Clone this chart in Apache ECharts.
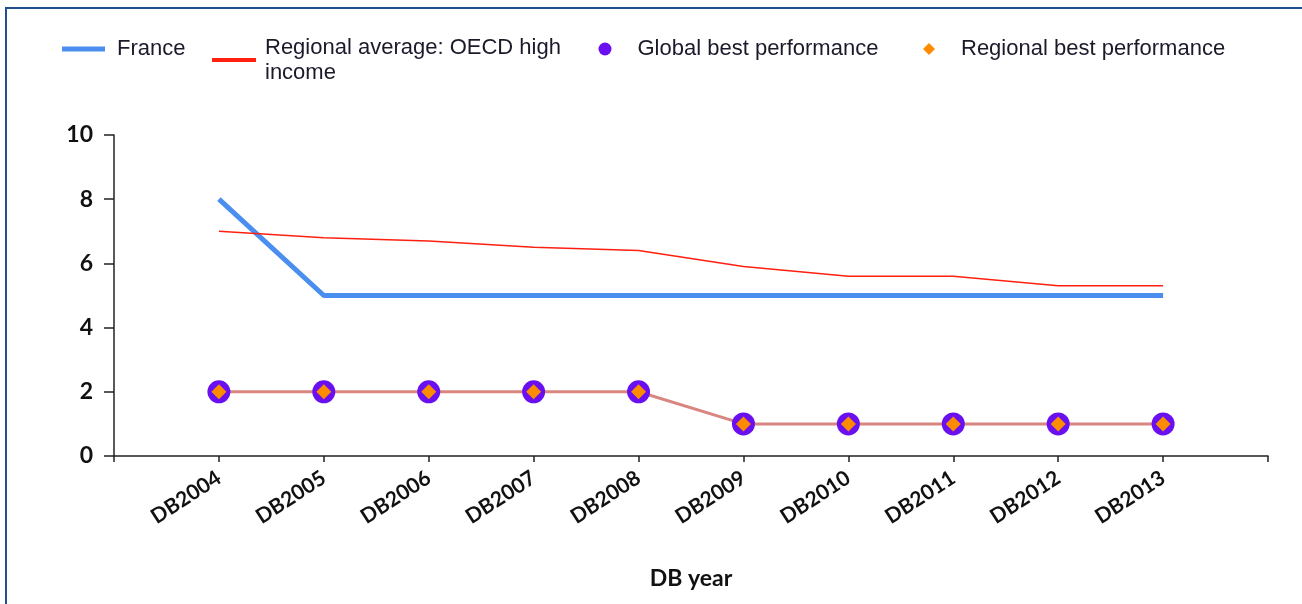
<!DOCTYPE html>
<html>
<head>
<meta charset="utf-8">
<script src="https://cdn.jsdelivr.net/npm/echarts@6/dist/echarts.min.js"></script>
<style>
html,body{margin:0;padding:0;background:#fff;}
#wrap{position:relative;width:1302px;height:604px;overflow:hidden;}
#chart{position:absolute;left:0;top:0;width:1302px;height:604px;}
#frame{position:absolute;left:5px;top:7px;width:1400px;height:700px;border-top:2px solid #1f4f8f;border-left:2px solid #1f4f8f;pointer-events:none;}
</style>
</head>
<body>
<div id="wrap"><div id="chart"></div><div id="frame"></div></div>
<script>
const categories = ['DB2004','DB2005','DB2006','DB2007','DB2008','DB2009','DB2010','DB2011','DB2012','DB2013'];
const france = [8,5,5,5,5,5,5,5,5,5];
const regionalAverage = [7.0,6.8,6.7,6.5,6.4,5.9,5.6,5.6,5.3,5.3];
const globalBest = [2,2,2,2,2,1,1,1,1,1];
const regionalBest = [2,2,2,2,2,1,1,1,1,1];
const yMin = 0, yMax = 10, yInterval = 2;
const xAxisName = 'DB year';
const names = ['France','Regional average: OECD high\nincome','Global best performance','Regional best performance'];

const pad = arr => [null].concat(arr, [null]);
const cats = [''].concat(categories, ['']);

const legendText = {fontFamily:'Liberation Sans', fontSize:22, color:'#1a1a2a', lineHeight:23};
const chart = echarts.init(document.getElementById('chart'));
chart.setOption({
  animation:false,
  legend:[
    {data:[names[0]], left:62, top:37.5, padding:0, icon:'rect', itemWidth:43, itemHeight:5, textStyle:Object.assign({},legendText,{padding:[0,0,0,7]}), selectedMode:false},
    {data:[names[1]], left:212, top:35, padding:0, icon:'rect', itemWidth:44, itemHeight:4, textStyle:Object.assign({},legendText,{padding:[0,0,0,4], lineHeight:25}), selectedMode:false},
    {data:[names[2]], left:598.5, top:37.5, padding:0, icon:'circle', itemWidth:13, itemHeight:13, textStyle:Object.assign({},legendText,{padding:[0,0,0,21]}), selectedMode:false},
    {data:[names[3]], left:923, top:37.5, padding:0, icon:'diamond', itemWidth:12, itemHeight:12, textStyle:Object.assign({},legendText,{padding:[0,0,0,21]}), selectedMode:false}
  ],
  grid:{left:114, right:34, top:135, bottom:148},
  xAxis:{
    type:'category', data:cats, boundaryGap:false,
    name:xAxisName, nameLocation:'middle', nameGap:111,
    nameTextStyle:{fontFamily:'Lato', fontWeight:'bold', fontSize:23, color:'#111'},
    axisLine:{lineStyle:{color:'#222', width:1.5}},
    axisTick:{show:true, interval:0, length:6, lineStyle:{color:'#222', width:1.5}},
    axisLabel:{interval:0, rotate:33, margin:20, fontFamily:'Lato', fontWeight:'bold', fontSize:21, color:'#111'},
    splitLine:{show:false}
  },
  yAxis:{
    type:'value', min:yMin, max:yMax, interval:yInterval,
    axisLine:{show:true, lineStyle:{color:'#222', width:1.5}},
    axisTick:{show:true, length:10, lineStyle:{color:'#222', width:1.5}},
    axisLabel:{margin:21, fontFamily:'Lato', fontWeight:'bold', fontSize:23, color:'#111'},
    splitLine:{show:false}
  },
  series:[
    {name:names[0], type:'line', data:pad(france), symbol:'none', itemStyle:{color:'#4a8ff0'}, lineStyle:{color:'#4a8ff0', width:5}, z:3},
    {name:names[1], type:'line', data:pad(regionalAverage), symbol:'none', itemStyle:{color:'#ff2010'}, lineStyle:{color:'#ff2010', width:1.5}, z:4},
    {name:names[2], type:'line', data:pad(globalBest), symbol:'circle', symbolSize:23, itemStyle:{color:'#6a10f0'}, lineStyle:{color:'#d98680', width:3}, z:5},
    {name:names[3], type:'line', data:pad(regionalBest), symbol:'diamond', symbolSize:15, itemStyle:{color:'#ff8c00'}, lineStyle:{opacity:0}, z:6}
  ]
});
</script>
</body>
</html>
